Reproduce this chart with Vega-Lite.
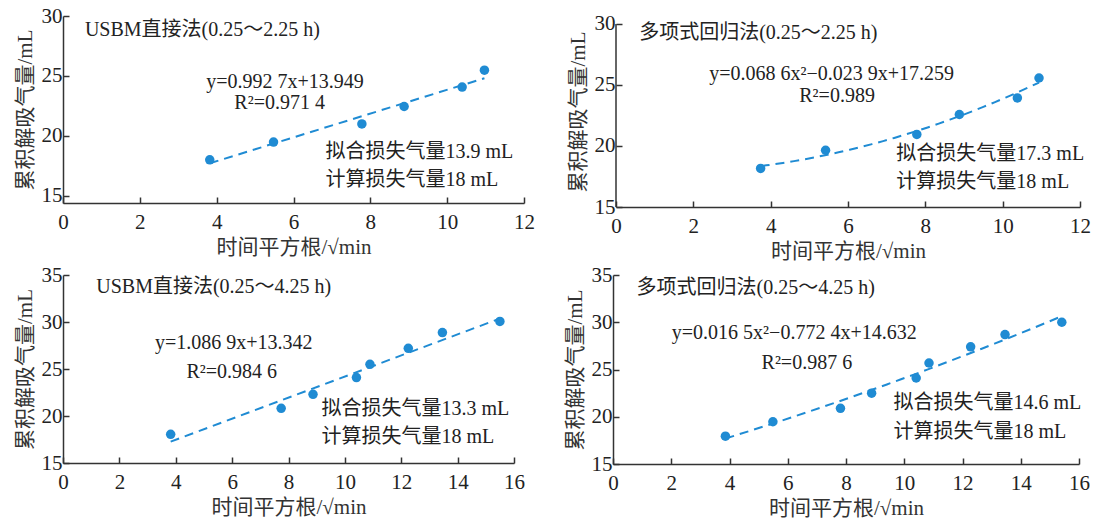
{
  "$schema": "https://vega.github.io/schema/vega-lite/v6.json",
  "background": "white",
  "padding": {"left": 14, "top": 5, "right": 5, "bottom": 2},
  "config": {
    "view": {"stroke": null},
    "font": "Liberation Serif, Noto Sans CJK SC",
    "axis": {
      "grid": false,
      "domainColor": "#333333",
      "tickColor": "#333333",
      "domainWidth": 1.5,
      "tickWidth": 1.5,
      "tickSize": -6,
      "labelColor": "#222222",
      "titleColor": "#333333",
      "labelFont": "Liberation Serif",
      "labelFontSize": 21,
      "titleFont": "Liberation Serif, Noto Sans CJK SC",
      "titleFontSize": 21,
      "titleFontWeight": "normal"
    },
    "axisX": {"labelPadding": 14, "titlePadding": 4, "labelFlush": false},
    "axisY": {"labelPadding": 7, "titlePadding": 6, "labelFlush": false}
  },
  "datasets": {
    "p1": [
      {"x": 3.82, "y": 18.0}, {"x": 5.48, "y": 19.48}, {"x": 7.78, "y": 21.0},
      {"x": 8.88, "y": 22.45}, {"x": 10.39, "y": 24.07}, {"x": 10.97, "y": 25.48}
    ],
    "p2": [
      {"x": 3.74, "y": 18.16}, {"x": 5.42, "y": 19.65}, {"x": 7.78, "y": 20.95},
      {"x": 8.88, "y": 22.58}, {"x": 10.38, "y": 23.94}, {"x": 10.94, "y": 25.57}
    ],
    "p2axis": [{"x": 0, "y": 15, "y2": 30}],
    "p3": [
      {"x": 3.82, "y": 18.05}, {"x": 7.74, "y": 20.82}, {"x": 8.87, "y": 22.31},
      {"x": 10.41, "y": 24.09}, {"x": 10.89, "y": 25.5}, {"x": 12.25, "y": 27.2},
      {"x": 13.46, "y": 28.88}, {"x": 15.5, "y": 30.06}
    ],
    "p4": [
      {"x": 3.86, "y": 17.94}, {"x": 5.49, "y": 19.47}, {"x": 7.81, "y": 20.89},
      {"x": 8.88, "y": 22.49}, {"x": 10.41, "y": 24.1}, {"x": 10.85, "y": 25.69},
      {"x": 12.28, "y": 27.4}, {"x": 13.46, "y": 28.7}, {"x": 15.41, "y": 30.0}
    ],
    "t1": [
      {"x": 0.57, "y": 28.83, "label": "USBM直接法(0.25～2.25 h)"},
      {"x": 3.73, "y": 24.5, "label": "y=0.992 7x+13.949"},
      {"x": 4.46, "y": 22.72, "label": "R²=0.971 4"},
      {"x": 6.83, "y": 18.69, "label": "拟合损失气量13.9 mL"},
      {"x": 6.83, "y": 16.33, "label": "计算损失气量18 mL"}
    ],
    "t2": [
      {"x": 0.6, "y": 29.24, "label": "多项式回归法(0.25～2.25 h)"},
      {"x": 2.41, "y": 25.92, "label": "y=0.068 6x²−0.023 9x+17.259"},
      {"x": 4.74, "y": 24.08, "label": "R²=0.989"},
      {"x": 7.25, "y": 19.32, "label": "拟合损失气量17.3 mL"},
      {"x": 7.25, "y": 17.07, "label": "计算损失气量18 mL"}
    ],
    "t3": [
      {"x": 1.18, "y": 33.75, "label": "USBM直接法(0.25～4.25 h)"},
      {"x": 3.26, "y": 27.73, "label": "y=1.086 9x+13.342"},
      {"x": 4.38, "y": 24.7, "label": "R²=0.984 6"},
      {"x": 9.17, "y": 20.7, "label": "拟合损失气量13.3 mL"},
      {"x": 9.17, "y": 17.78, "label": "计算损失气量18 mL"}
    ],
    "t4": [
      {"x": 0.81, "y": 33.6, "label": "多项式回归法(0.25～4.25 h)"},
      {"x": 2.02, "y": 28.83, "label": "y=0.016 5x²−0.772 4x+14.632"},
      {"x": 5.1, "y": 25.66, "label": "R²=0.987 6"},
      {"x": 9.63, "y": 21.42, "label": "拟合损失气量14.6 mL"},
      {"x": 9.63, "y": 18.42, "label": "计算损失气量18 mL"}
    ]
  },
  "vconcat": [
    {
      "hconcat": [
        {
          "width": 461, "height": 187,
          "encoding": {
            "x": {"field": "x", "type": "quantitative", "scale": {"domain": [0, 12], "nice": false}, "axis": {"values": [0, 2, 4, 6, 8, 10, 12], "title": "时间平方根/√min"}},
            "y": {"field": "y", "type": "quantitative", "scale": {"domain": [14.4, 30], "nice": false, "zero": false}, "axis": {"values": [15, 20, 25, 30], "title": "累积解吸气量/mL"}}
          },
          "layer": [
            {"data": {"name": "p1"}, "transform": [{"regression": "y", "on": "x"}], "mark": {"type": "line", "strokeDash": [9, 6], "strokeWidth": 2, "color": "#1f8bd3"}},
            {"data": {"name": "p1"}, "mark": {"type": "point", "filled": true, "size": 90, "opacity": 1, "color": "#1f8bd3"}},
            {"data": {"name": "t1"}, "mark": {"type": "text", "align": "left", "baseline": "middle", "fontSize": 20, "color": "#222222"}, "encoding": {"text": {"field": "label"}}}
          ]
        },
        {
          "width": 464, "height": 191,
          "encoding": {
            "x": {"field": "x", "type": "quantitative", "scale": {"domain": [0, 12], "nice": false}, "axis": {"values": [0, 2, 4, 6, 8, 10, 12], "title": "时间平方根/√min"}},
            "y": {"field": "y", "type": "quantitative", "scale": {"domain": [15, 30.65], "nice": false, "zero": false}, "axis": {"values": [15, 20, 25, 30], "title": "累积解吸气量/mL", "domain": false}}
          },
          "layer": [
            {"data": {"name": "p2axis"}, "mark": {"type": "rule", "color": "#333333", "strokeWidth": 1.5}, "encoding": {"y2": {"field": "y2"}}},
            {"data": {"name": "p2"}, "transform": [{"regression": "y", "on": "x", "method": "poly", "order": 2}], "mark": {"type": "line", "strokeDash": [9, 6], "strokeWidth": 2, "color": "#1f8bd3"}},
            {"data": {"name": "p2"}, "mark": {"type": "point", "filled": true, "size": 90, "opacity": 1, "color": "#1f8bd3"}},
            {"data": {"name": "t2"}, "mark": {"type": "text", "align": "left", "baseline": "middle", "fontSize": 20, "color": "#222222"}, "encoding": {"text": {"field": "label"}}}
          ]
        }
      ],
      "spacing": 32
    },
    {
      "hconcat": [
        {
          "width": 451, "height": 188,
          "encoding": {
            "x": {"field": "x", "type": "quantitative", "scale": {"domain": [0, 16], "nice": false}, "axis": {"values": [0, 2, 4, 6, 8, 10, 12, 14, 16], "title": "时间平方根/√min"}},
            "y": {"field": "y", "type": "quantitative", "scale": {"domain": [15, 35], "nice": false, "zero": false}, "axis": {"values": [15, 20, 25, 30, 35], "title": "累积解吸气量/mL"}}
          },
          "layer": [
            {"data": {"name": "p3"}, "transform": [{"regression": "y", "on": "x"}], "mark": {"type": "line", "strokeDash": [9, 6], "strokeWidth": 2, "color": "#1f8bd3"}},
            {"data": {"name": "p3"}, "mark": {"type": "point", "filled": true, "size": 90, "opacity": 1, "color": "#1f8bd3"}},
            {"data": {"name": "t3"}, "mark": {"type": "text", "align": "left", "baseline": "middle", "fontSize": 20, "color": "#222222"}, "encoding": {"text": {"field": "label"}}}
          ]
        },
        {
          "width": 466, "height": 189,
          "encoding": {
            "x": {"field": "x", "type": "quantitative", "scale": {"domain": [0, 16], "nice": false}, "axis": {"values": [0, 2, 4, 6, 8, 10, 12, 14, 16], "title": "时间平方根/√min"}},
            "y": {"field": "y", "type": "quantitative", "scale": {"domain": [15, 35], "nice": false, "zero": false}, "axis": {"values": [15, 20, 25, 30, 35], "title": "累积解吸气量/mL"}}
          },
          "layer": [
            {"data": {"name": "p4"}, "transform": [{"regression": "y", "on": "x", "method": "poly", "order": 2}], "mark": {"type": "line", "strokeDash": [9, 6], "strokeWidth": 2, "color": "#1f8bd3"}},
            {"data": {"name": "p4"}, "mark": {"type": "point", "filled": true, "size": 90, "opacity": 1, "color": "#1f8bd3"}},
            {"data": {"name": "t4"}, "mark": {"type": "text", "align": "left", "baseline": "middle", "fontSize": 20, "color": "#222222"}, "encoding": {"text": {"field": "label"}}}
          ]
        }
      ],
      "spacing": 39
    }
  ],
  "spacing": 3
}
